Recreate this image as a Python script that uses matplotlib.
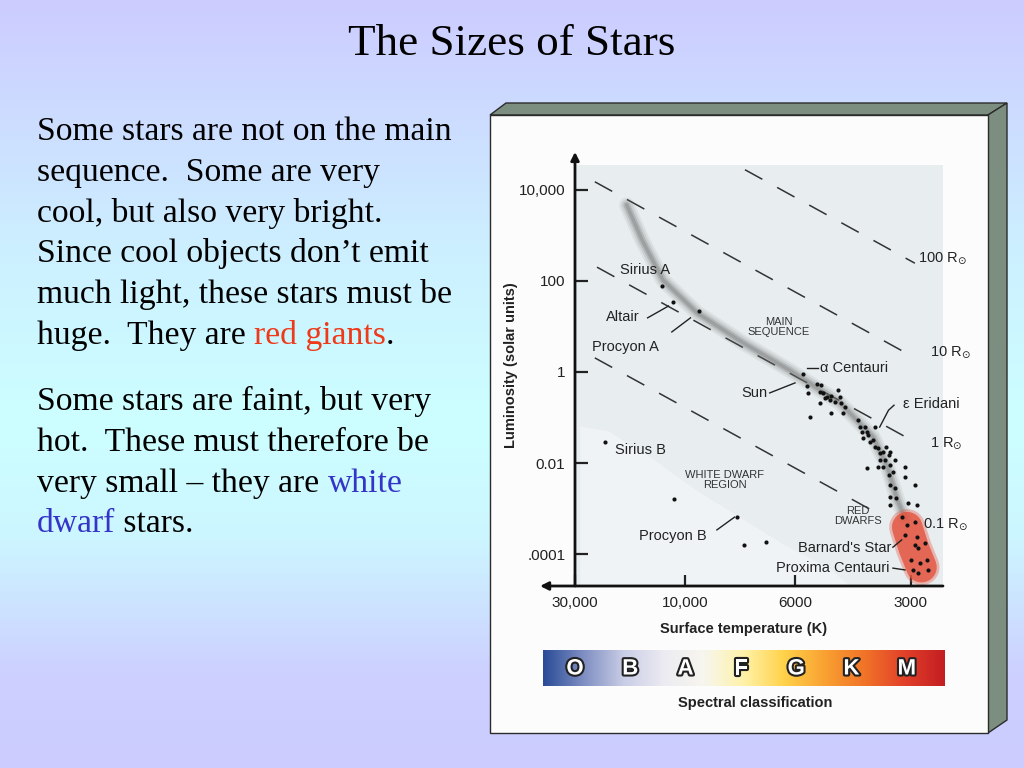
import numpy as np
import matplotlib.pyplot as plt
from matplotlib.colors import LinearSegmentedColormap
from matplotlib.patches import Polygon, Rectangle
import matplotlib.patheffects as pe

plt.rcParams['font.family'] = ['Liberation Sans', 'DejaVu Sans']
plt.rcParams['mathtext.fontset'] = 'dejavusans'

# ---------------- data ---------------- #
# x = position on the schematic temperature axis, y = log10(L / Lsun)

temp_tick_pos = [0.0, 1.0, 2.0, 3.05]
temp_tick_labels = ['30,000', '10,000', '6000', '3000']
lum_tick_pos = [4, 2, 0, -2, -4]
lum_tick_labels = ['10,000', '100', '1', '0.01', '.0001']

# main sequence band (grey smear)
band_x = [0.47, 0.61, 0.80, 1.11, 1.53, 1.95, 2.41, 2.71, 2.84, 2.93, 3.00]
band_y = [3.67, 2.90, 2.02, 1.30, 0.64, 0.04, -0.68, -1.43, -2.08, -2.81, -3.20]

# red dwarf blob
red_x = [3.02, 3.08, 3.15]
red_y = [-3.41, -3.87, -4.29]

# dots along the lower main sequence
ms_x = [2.07, 2.11, 2.12, 2.20, 2.24, 2.23, 2.25, 2.27, 2.29, 2.32, 2.33, 2.36, 2.39, 2.41,
        2.42, 2.45, 2.23, 2.33, 2.14, 2.44, 2.57, 2.59, 2.61, 2.64, 2.65, 2.66, 2.73, 2.62,
        2.68, 2.71, 2.73, 2.75, 2.77, 2.80, 2.83, 2.85, 2.86, 2.77, 2.82, 2.75, 2.80, 2.86,
        2.65, 2.91, 2.89, 2.85, 3.00, 3.00, 2.86, 2.91, 3.09, 2.86, 2.92, 3.03, 2.86, 3.11,
        2.97, 3.09, 3.02, 3.00, 3.11, 3.09, 3.12, 3.18, 3.05, 3.14, 3.20, 3.07, 3.12, 3.21]
ms_y = [-0.04, -0.31, -0.46, -0.26, -0.29, -0.44, -0.46, -0.57, -0.54, -0.62, -0.53, -0.65,
        -0.40, -0.54, -0.68, -0.76, -0.68, -0.90, -0.98, -0.90, -1.05, -1.20, -1.31, -1.20,
        -1.31, -1.38, -1.20, -1.45, -1.53, -1.49, -1.64, -1.67, -1.78, -1.75, -1.64, -1.82,
        -1.75, -1.93, -1.93, -2.08, -2.08, -2.04, -2.11, -1.93, -2.19, -2.26, -2.08, -2.30,
        -2.48, -2.55, -2.48, -2.74, -2.77, -2.88, -2.92, -2.92, -3.18, -3.29, -3.36, -3.58,
        -3.62, -3.80, -3.87, -3.76, -4.13, -4.20, -4.13, -4.35, -4.42, -4.35]

# other single stars
star_x = [0.79, 0.89, 1.13, 0.27, 0.90, 1.47, 1.54, 1.74]
star_y = [1.89, 1.54, 1.34, -1.54, -2.79, -3.19, -3.80, -3.74]

# lines of constant radius: logL = offset - slope * x
radius_labels = [r'100 R$_{\odot}$', r'10 R$_{\odot}$', r'1 R$_{\odot}$', r'0.1 R$_{\odot}$']
radius_offset = [6.50, 4.42, 2.57, 0.55]
radius_x0 = [1.545, 0.18, 0.20, 0.18]
radius_x1 = [3.09, 3.03, 3.00, 2.71]
radius_slope = 1.33

spectral_classes = ['O', 'B', 'A', 'F', 'G', 'K', 'M']
spectral_colors = ['#2a4c98', '#7f8fc2', '#c9cde6', '#ecebf2', '#f7f6ee', '#fff2a8',
                   '#ffd24a', '#f9a232', '#f17428', '#e2412a', '#c41e22']

para1 = [
    [("Some stars are not on the main", 'black')],
    [("sequence.  Some are very", 'black')],
    [("cool, but also very bright.", 'black')],
    [("Since cool objects don\u2019t emit", 'black')],
    [("much light, these stars must be", 'black')],
    [("huge.  They are ", 'black'), ("red giants", '#ee3a18'), (".", 'black')],
]
para2 = [
    [("Some stars are faint, but very", 'black')],
    [("hot.  These must therefore be", 'black')],
    [("very small \u2013 they are ", 'black'), ("white", '#3434c8')],
    [("dwarf", '#3434c8'), (" stars.", 'black')],
]

# ---------------- functions ---------------- #

def text_width(ax, s, **kw):
    r = ax.figure.canvas.get_renderer()
    t = ax.text(0, 0, s, **kw)
    w = t.get_window_extent(r).width
    t.remove()
    return w

def rich_line(ax, x, y, parts, **kw):
    done = ''
    for s, col in parts:
        # offset measured without trailing-space problems
        off = text_width(ax, done + s, **kw) - text_width(ax, s, **kw)
        ax.text(x + off, y, s, color=col, va='baseline', ha='left', **kw)
        done += s

def main():
    fig = plt.figure(figsize=(10.24, 7.68), dpi=100)

    # background + slide layout, pixel coords
    bg = fig.add_axes([0, 0, 1, 1])
    bg.set_xlim(0, 1024)
    bg.set_ylim(768, 0)
    bg.axis('off')
    grad = LinearSegmentedColormap.from_list(
        'bg', [(0, '#ccccff'), (0.33, '#ccf0ff'), (0.55, '#ccffff'),
               (0.70, '#ccf6ff'), (0.88, '#ccd0ff'), (1, '#ccccff')])
    bg.imshow(np.linspace(0, 1, 256).reshape(-1, 1), cmap=grad, aspect='auto',
              extent=[0, 1024, 768, 0], zorder=0)

    bg.text(512, 55, 'The Sizes of Stars', ha='center', va='baseline',
            fontsize=32.5, family='Liberation Serif')

    kw = dict(fontsize=24.2, family='Liberation Serif')
    for i, parts in enumerate(para1):
        rich_line(bg, 37, 140 + i * 40.8, parts, **kw)
    for i, parts in enumerate(para2):
        rich_line(bg, 37, 410 + i * 40.8, parts, **kw)

    # framed picture
    side = '#7c8e7f'
    bg.add_patch(Polygon([(490, 115), (506, 103), (1007, 103), (988, 115)], closed=True,
                         fc=side, ec='#2b2b2b', lw=1, zorder=1))
    bg.add_patch(Polygon([(988, 115), (1007, 103), (1007, 720), (988, 733)], closed=True,
                         fc=side, ec='#2b2b2b', lw=1, zorder=1))
    bg.add_patch(Rectangle((490, 115), 498, 618, fc='#fcfcfc', ec='#2b2b2b', lw=1, zorder=1))

    # spectral bar
    spec = LinearSegmentedColormap.from_list('spec', spectral_colors)
    bg.imshow(np.linspace(0, 1, 256).reshape(1, -1), cmap=spec, aspect='auto',
              extent=[543, 945, 686, 650], zorder=2)
    for i, c in enumerate(spectral_classes):
        bg.text(575 + i * 55.3, 669, c, ha='center', va='center', fontsize=16,
                fontweight='bold', color='white', zorder=3,
                path_effects=[pe.withStroke(linewidth=3, foreground='#222222')])
    bg.text(755, 703, 'Spectral classification', ha='center', va='center',
            fontsize=10.5, fontweight='bold', color='#222222', zorder=3)

    # ---------------- HR diagram ---------------- #
    ax = fig.add_axes([575 / 1024, 1 - 586 / 768, 368 / 1024, 421 / 768])
    ax.set_facecolor('#e8eef0')
    ax.set_xlim(0, 368 / 110)
    ax.set_ylim(-4.703, 4.549)
    for s in ax.spines.values():
        s.set_visible(False)

    # white dwarf region, a little lighter
    wd = Polygon([(0.05, -1.2), (0.3, -1.3), (0.7, -1.9), (1.1, -2.6), (1.5, -3.2),
                  (1.9, -3.8), (2.3, -4.3), (2.5, -4.703), (0.05, -4.703)],
                 closed=True, fc='#f6f8fb', ec='none', alpha=0.6, zorder=0.5)
    ax.add_patch(wd)

    # constant radius lines
    for lab, off, x0, x1 in zip(radius_labels, radius_offset, radius_x0, radius_x1):
        xs = np.array([x0, x1])
        ax.plot(xs, off - radius_slope * xs, color='#333333', lw=1.1,
                linestyle=(0, (13, 11)), zorder=1)
    lab_pos = [(3.12, 2.50), (3.23, 0.44), (3.23, -1.56), (3.16, -3.34)]
    for lab, (lx, ly) in zip(radius_labels, lab_pos):
        ax.text(lx, ly, lab, fontsize=10.5, va='center', ha='left', color='#222222')

    # main sequence band
    for lw, a in [(11, 0.10), (8, 0.15), (5, 0.25), (2.5, 0.30)]:
        ax.plot(band_x, band_y, color='#6e6e6e', lw=lw, alpha=a,
                solid_capstyle='round', solid_joinstyle='round', zorder=2)

    # red dwarfs
    for lw, a in [(26, 0.35), (22, 0.8)]:
        ax.plot(red_x, red_y, color='#e4533f', lw=lw, alpha=a,
                solid_capstyle='round', solid_joinstyle='round', zorder=2.5)

    ax.scatter(ms_x, ms_y, s=9, color='#111111', zorder=3, linewidths=0)
    ax.scatter(star_x, star_y, s=9, color='#111111', zorder=3, linewidths=0)

    # leaders
    leaders = [([0.66, 0.85], [1.19, 1.45]), ([0.88, 1.05], [0.88, 1.19]),
               ([2.11, 2.21], [0.09, 0.09]), ([1.77, 2.00], [-0.46, -0.24]),
               ([2.77, 2.85, 2.90], [-1.21, -0.84, -0.73]), ([1.29, 1.45], [-3.47, -3.19]),
               ([2.89, 2.97], [-3.85, -3.69]), ([2.89, 3.00], [-4.31, -4.35])]
    for lx, ly in leaders:
        ax.plot(lx, ly, color='#222222', lw=1, zorder=3)

    labels = [('Sirius A', 0.41, 2.24, 'left'), ('Altair', 0.59, 1.21, 'right'),
              ('Procyon A', 0.155, 0.55, 'left'), ('\u03b1 Centauri', 2.23, 0.09, 'left'),
              ('Sun', 1.75, -0.46, 'right'), ('\u03b5 Eridani', 2.98, -0.70, 'left'),
              ('Sirius B', 0.36, -1.71, 'left'), ('Procyon B', 1.20, -3.60, 'right'),
              ("Barnard's Star", 2.88, -3.87, 'right'),
              ('Proxima Centauri', 2.86, -4.31, 'right')]
    for s, lx, ly, ha in labels:
        ax.text(lx, ly, s, fontsize=10.5, ha=ha, va='center', color='#222222', zorder=4)
    for s, lx, ly in [('MAIN\nSEQUENCE', 1.85, 0.98), ('WHITE DWARF\nREGION', 1.36, -2.37),
                      ('RED\nDWARFS', 2.57, -3.16)]:
        ax.text(lx, ly, s, fontsize=8, ha='center', va='center', color='#333333',
                linespacing=1.0, zorder=4)

    # axes with arrow heads
    ax.annotate('', xy=(0, 1.031), xytext=(0, 0), xycoords='axes fraction',
                arrowprops=dict(arrowstyle='-|>', lw=2, color='#111111', mutation_scale=12,
                                shrinkA=0, shrinkB=0))
    ax.annotate('', xy=(-0.095, 0), xytext=(1, 0), xycoords='axes fraction',
                arrowprops=dict(arrowstyle='-|>', lw=2, color='#111111', mutation_scale=12,
                                shrinkA=0, shrinkB=0))

    ax.set_xticks(temp_tick_pos, temp_tick_labels)
    ax.set_yticks(lum_tick_pos, lum_tick_labels)
    ax.tick_params(axis='x', direction='in', length=8, width=1.6, pad=7, labelsize=11,
                   colors='#222222')
    ax.tick_params(axis='y', direction='in', length=9, width=1.6, pad=7, labelsize=11,
                   colors='#222222')
    ax.set_xlabel('Surface temperature (K)', fontsize=10.5, fontweight='bold', color='#222222')
    ax.set_ylabel('Luminosity (solar units)', fontsize=10.5, fontweight='bold', color='#222222')
    ax.xaxis.set_label_coords(0.457, -0.085)
    ax.yaxis.set_label_coords(-0.155, 0.525)

    fig.savefig('out.png', dpi=100)

if __name__ == "__main__":
    main()
